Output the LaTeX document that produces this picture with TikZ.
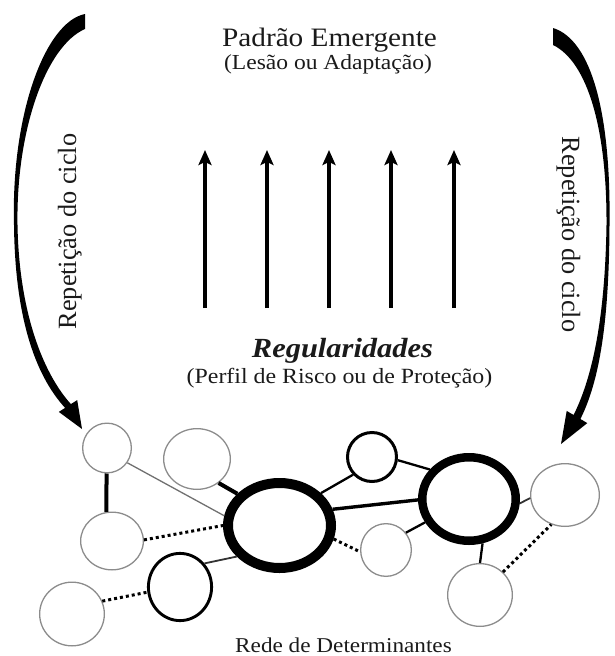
\documentclass[tikz,border=0pt]{standalone}
\usepackage{graphicx}
\usepackage{fontspec}
\setmainfont{Liberation Serif}
\usetikzlibrary{shapes.geometric,arrows.meta}
\definecolor{thingray}{HTML}{8C8C8C}
\definecolor{edgegray}{HTML}{707070}
\definecolor{edgedark}{HTML}{333333}
\definecolor{txt}{HTML}{1A1A1A}
\begin{document}
\begin{tikzpicture}[x=1pt,y=-1pt,
  circthin/.style={ellipse,draw=thingray,line width=1.3pt,inner sep=0pt,fill=white},
  circmed/.style={ellipse,draw=black,line width=2.9pt,inner sep=0pt,fill=white},
  circbig/.style={ellipse,draw=black,inner sep=0pt,fill=white},
  thickedge/.style={line width=4pt,draw=black},
  medgedge/.style={line width=2.3pt,draw=black},
  grayedge/.style={line width=1.3pt,draw=edgegray},
  darkedge/.style={line width=1.8pt,draw=edgedark},
  dotedge/.style={line width=3pt,draw=black,dash pattern=on 3pt off 3pt},
  uparrow/.style={line width=3.6pt,draw=black,-{Stealth[length=15pt,width=13pt,inset=3pt]}},
  curvearrow/.style={fill=black,draw=none},
  lbl/.style={anchor=base,text=txt,inner sep=0pt}
]
\useasboundingbox (0,0) rectangle (614,656);

% ---- texts ----
\node[lbl] (title) at (329.5,46) {\fontsize{26.6}{30}\selectfont\scalebox{1.1}[1]{Padrão Emergente}};
\node[lbl] (titlesub) at (328,69) {\fontsize{21.4}{25}\selectfont\scalebox{1.1}[1]{(Lesão ou Adaptação)}};
\node[lbl] (reg) at (342.5,357) {\fontsize{27.7}{30}\selectfont\scalebox{1.1}[1]{\textbf{\textit{Regularidades}}}};
\node[lbl] (regsub) at (339.5,383) {\fontsize{21.7}{25}\selectfont\scalebox{1.1}[1]{(Perfil de Risco ou de Proteção)}};
\node[lbl] (rede) at (343.5,652) {\fontsize{21.1}{25}\selectfont\scalebox{1.1}[1]{Rede de Determinantes}};
\node[lbl,rotate=90] (lrep) at (76,231.5) {\fontsize{26.3}{30}\selectfont Repetição do ciclo};
\node[lbl,rotate=-90] (rrep) at (562,234.5) {\fontsize{26.3}{30}\selectfont Repetição do ciclo};

% ---- vertical arrows ----
\foreach \i/\x in {1/205,2/267,3/329,4/391,5/454}{
  \coordinate (s\i) at (\x,308);
  \coordinate (e\i) at (\x,150);
  \draw[uparrow] (s\i) -- (e\i);
}

% ---- curved arrows ----
\fill[curvearrow] (85,14) .. controls (45,22) and (11,115) .. (14,225)
  .. controls (15,315) and (34,374) .. (65.1,407.9)
  -- (58.8,411.9) -- (82,429) -- (77.2,400.1) -- (70.9,404.1)
  .. controls (42,372) and (19,310) .. (17.5,225)
  .. controls (16,130) and (46,46) .. (85,29) -- cycle;

\fill[curvearrow] (553,28) .. controls (592,40) and (611,115) .. (609.5,225)
  .. controls (609,320) and (600,380) .. (580.4,419)
  -- (587.3,423.1) -- (561,444) -- (566.7,410.9) -- (573.6,415)
  .. controls (592,378) and (605,320) .. (606.5,225)
  .. controls (607,130) and (588,62) .. (553,45) -- cycle;

% ---- network nodes ----
\node[circthin,minimum width=48.7pt,minimum height=49.7pt] (A) at (107,448) {};
\node[circthin,minimum width=66.7pt,minimum height=60.7pt] (B) at (197,459) {};
\node[circthin,minimum width=62.7pt,minimum height=57.7pt] (C) at (112,541) {};
\node[circmed,minimum width=63.2pt,minimum height=67.2pt] (D) at (180,587) {};
\node[circthin,minimum width=64.7pt,minimum height=63.7pt] (E) at (72,614) {};
\node[circbig,line width=10pt,minimum width=103pt,minimum height=85pt] (F) at (279.5,525.5) {};
\node[circmed,line width=3pt,minimum width=49pt,minimum height=49pt] (G) at (372,457) {};
\node[circbig,line width=8.5pt,minimum width=93.5pt,minimum height=83.5pt] (H) at (469,499) {};
\node[circthin,minimum width=50.7pt,minimum height=52.7pt] (I) at (386,550) {};
\node[circthin,minimum width=68.7pt,minimum height=62.7pt] (J) at (565,495) {};
\node[circthin,minimum width=64.7pt,minimum height=62.7pt] (K) at (480,595) {};

% ---- network edges ----
\draw[thickedge] (A.-91) -- (C.101);
\draw[grayedge] (A.-36) -- (F.170);
\draw[thickedge] (B.-48) -- (F.143);
\draw[dotedge] (C.2) -- (F.180);
\draw[darkedge] (D.44) -- (F.216);
\draw[dotedge] (E.23) -- (D.189);
\draw[medgedge] (F.38) -- (G.223);
\draw[thickedge,line width=3.4pt] (F.17) -- (H.181);
\draw[dotedge] (F.-14) -- (I.184);
\draw[medgedge] (I.41) -- (H.208);
\draw[medgedge] (G.-7) -- (H.143);
\draw[darkedge] (H.-5) -- (J.185);
\draw[medgedge] (H.-73) -- (K.90);
\draw[dotedge] (K.45) -- (J.245);
\end{tikzpicture}
\end{document}
